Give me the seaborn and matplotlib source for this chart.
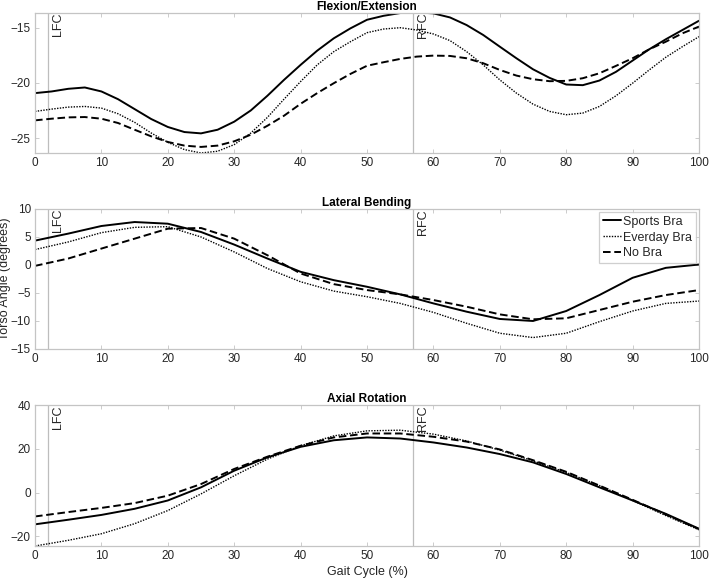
import numpy as np
import pandas as pd
import seaborn as sns
import matplotlib.pyplot as plt

# Gait cycle positions (%)
gait_fe = np.arange(0, 100.1, 2.5)
gait = np.arange(0, 100.1, 5)

# Flexion/Extension (degrees), read every 2.5 %
fe_sports = [-20.93, -20.78, -20.54, -20.42, -20.78, -21.48, -22.38, -23.28, -24.0, -24.46,
             -24.58, -24.25, -23.52, -22.5, -21.17, -19.73, -18.37, -17.08, -15.96, -15.06,
             -14.28, -13.92, -13.67, -13.61, -13.7, -14.07, -14.76, -15.66, -16.72, -17.77,
             -18.77, -19.55, -20.15, -20.21, -19.79, -19.0, -17.98, -16.96, -16.05, -15.21, -14.37]
fe_everyday = [-22.59, -22.38, -22.2, -22.14, -22.29, -22.8, -23.58, -24.55, -25.39, -26.05,
               -26.36, -26.2, -25.6, -24.55, -23.13, -21.48, -19.88, -18.37, -17.17, -16.27,
               -15.45, -15.12, -15.0, -15.21, -15.57, -16.17, -17.17, -18.37, -19.73, -20.93,
               -21.93, -22.59, -22.89, -22.74, -22.14, -21.17, -20.03, -18.83, -17.68, -16.72, -15.81]
fe_nobra = [-23.4, -23.25, -23.13, -23.1, -23.25, -23.64, -24.25, -24.85, -25.36, -25.69,
            -25.81, -25.69, -25.3, -24.7, -23.89, -22.98, -21.9, -20.93, -20.03, -19.19,
            -18.45, -18.13, -17.83, -17.62, -17.53, -17.56, -17.77, -18.22, -18.83, -19.34,
            -19.67, -19.85, -19.82, -19.58, -19.13, -18.46, -17.77, -16.96, -16.27, -15.51, -14.9]

# Lateral Bending (degrees), read every 5 %
lb_sports = [4.35, 5.6, 6.96, 7.67, 7.37, 5.89, 3.64, 1.15, -1.22, -2.71, -3.89,
             -5.25, -6.86, -8.34, -9.64, -10.0, -8.22, -5.37, -2.29, -0.51, 0.08]
lb_everyday = [2.75, 4.11, 5.77, 6.72, 6.84, 5.0, 2.33, -0.63, -3.0, -4.66, -5.67,
               -6.86, -8.46, -10.41, -12.19, -12.96, -12.19, -10.12, -8.22, -6.86, -6.44]
lb_nobra = [-0.16, 1.15, 2.93, 4.7, 6.48, 6.6, 4.7, 1.74, -1.52, -3.42, -4.48,
            -5.25, -6.26, -7.45, -8.82, -9.7, -9.52, -8.04, -6.56, -5.37, -4.48]

# Axial Rotation (degrees), read every 5 %
ar_sports = [-14.5, -12.4, -10.2, -7.4, -3.6, 2.4, 10.0, 16.1, 20.9, 23.9, 25.2,
             24.7, 22.9, 20.6, 17.6, 13.8, 8.5, 2.4, -3.6, -9.7, -16.5]
ar_everyday = [-24.4, -21.8, -18.8, -14.2, -8.2, -0.6, 7.7, 15.3, 21.4, 25.9, 28.2,
               28.5, 26.7, 23.6, 19.4, 14.5, 9.2, 3.2, -3.6, -10.5, -17.0]
ar_nobra = [-10.9, -8.9, -7.0, -4.8, -1.4, 3.9, 10.8, 16.4, 21.4, 25.2, 27.0,
            27.0, 25.5, 23.3, 19.7, 14.8, 9.5, 3.2, -3.3, -10.0, -16.7]

conditions = ['Sports Bra', 'Everday Bra', 'No Bra']
titles = ['Flexion/Extension', 'Lateral Bending', 'Axial Rotation']
lfc, rfc = 2, 57

panels = [
    (gait_fe, [fe_sports, fe_everyday, fe_nobra], (-26.36, -13.64), [-25, -20, -15]),
    (gait, [lb_sports, lb_everyday, lb_nobra], (-15, 10), [-15, -10, -5, 0, 5, 10]),
    (gait, [ar_sports, ar_everyday, ar_nobra], (-24.4, 40), [-20, 0, 20, 40]),
]

sns.set_theme(style="ticks")
plt.rcParams['font.family'] = ['Liberation Sans', 'DejaVu Sans']
plt.rcParams['xtick.direction'] = 'in'
plt.rcParams['ytick.direction'] = 'in'

styles = {
    'Sports Bra': dict(linestyle='-', linewidth=1.4),
    'Everday Bra': dict(linestyle=(0, (1, 1)), linewidth=1.0),
    'No Bra': dict(linestyle=(0, (3.9, 1.9)), linewidth=1.4),
}

grey = '#262626'
edge = '#c4c4c4'

fig = plt.figure(figsize=(7.09, 5.80), dpi=100)
positions = [[0.0494, 0.7362, 0.9365, 0.2419],
             [0.0494, 0.3983, 0.9365, 0.2414],
             [0.0494, 0.0586, 0.9365, 0.2431]]

for i, (x, series, ylim, yticks) in enumerate(panels):
    ax = fig.add_axes(positions[i])
    for name, vals in zip(conditions, series):
        df = pd.DataFrame({'Gait': x, 'Angle': vals})
        sns.lineplot(data=df, x='Gait', y='Angle', ax=ax, color='black',
                     label=name, **styles[name])
    for xv, lab in [(lfc, 'LFC'), (rfc, 'RFC')]:
        ax.axvline(xv, color='#bdbdbd', lw=0.9, zorder=0)
        ax.text(xv + 0.6, ylim[1], lab, rotation=90, ha='left', va='top',
                fontsize=9, color=grey)
    ax.set_xlim(0, 100)
    ax.set_ylim(*ylim)
    ax.set_xticks(range(0, 101, 10))
    ax.set_yticks(yticks)
    ax.set_title(titles[i], fontsize=8.5, fontweight='bold', color='black', pad=2)
    ax.tick_params(labelsize=8.5, colors=grey, length=3, width=0.6, color=edge,
                   top=True, right=True, pad=3)
    for s in ax.spines.values():
        s.set_color(edge)
        s.set_linewidth(0.9)
    ax.set_xlabel('')
    ax.set_ylabel('')
    if i == 1:
        ax.set_ylabel('Torso Angle (degrees)', fontsize=9, color=grey)
        ax.yaxis.set_label_coords(-0.036, 0.5)
        leg = ax.legend(loc='upper right', fontsize=9, frameon=True, fancybox=False,
                        handlelength=1.5, handletextpad=0.15, labelspacing=0.3,
                        borderpad=0.3, borderaxespad=0.25)
        leg.get_frame().set_edgecolor(edge)
        leg.get_frame().set_linewidth(0.9)
        for t in leg.get_texts():
            t.set_color(grey)
    else:
        ax.get_legend().remove()
    if i == 2:
        ax.set_xlabel('Gait Cycle (%)', fontsize=9, color=grey, labelpad=3)

fig.savefig('out.png', dpi=100)
